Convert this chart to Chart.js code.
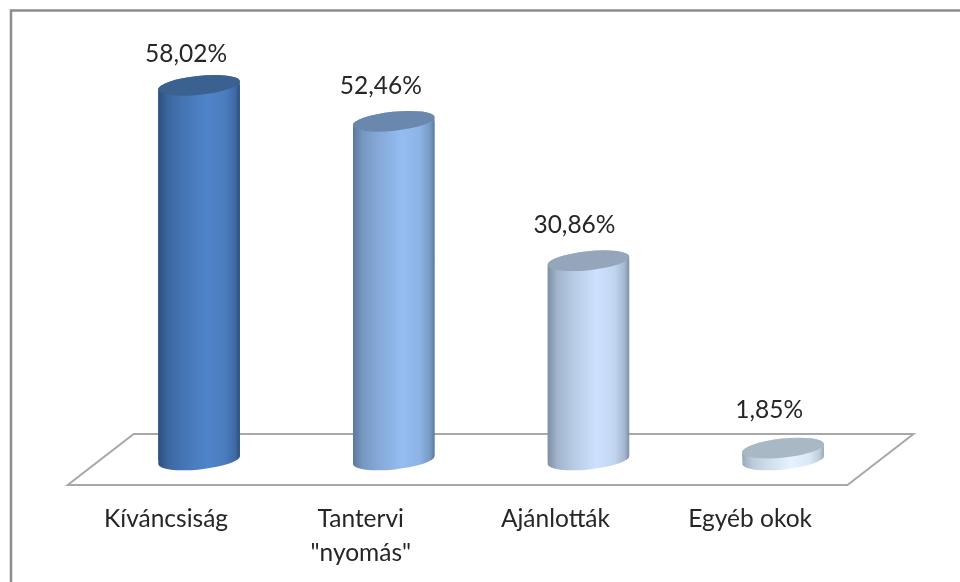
<!DOCTYPE html>
<html>
<head>
<meta charset="utf-8">
<style>
html,body{margin:0;padding:0;background:#fff;width:960px;height:582px;overflow:hidden}
#wrap{position:absolute;left:0;top:0;width:960px;height:582px}
</style>
<script src="https://cdn.jsdelivr.net/npm/chart.js@4"></script>
</head>
<body>
<div id="wrap"><canvas id="c" width="960" height="582"></canvas></div>
<script>
const categories = ["Kíváncsiság", ["Tantervi", "\"nyomás\""], "Ajánlották", "Egyéb okok"];
const values = [58.02, 52.46, 30.86, 1.85];
const valueLabels = ["58,02%", "52,46%", "30,86%", "1,85%"];
const edgeColors = [[44, 79, 124], [91, 120, 153], [125, 142, 163], [151, 169, 185]];
const midColors = [[79, 132, 203], [149, 189, 241], [205, 226, 255], [230, 242, 255]];
const capColors = ["#3a6190", "#6a88ae", "#95a6bb", "#a9b8c5"];
const labelShiftX = [-13, -13, -14, -14];
const labelLift = [31, 35, 36, 38];
const shadeStops = [[0, 0], [0.12, 0.45], [0.3, 0.7], [0.6, 1], [0.82, 0.85], [0.94, 0.5], [1, 0]];

const RY = 9.5, TILT = -6 * Math.PI / 180;
const BAR_FRACTION = 0.421;

function mix(a, b, t) {
  return "rgb(" + a.map((v, k) => Math.round(v + (b[k] - v) * t)).join(",") + ")";
}
function sideGradient(c, x, w, i) {
  const g = c.createLinearGradient(x - w / 2, 0, x + w / 2, 0);
  shadeStops.forEach(s => g.addColorStop(s[0], mix(edgeColors[i], midColors[i], s[1])));
  return g;
}
function silhouette(c, el) {
  const rx = el.width / 2;
  const ct = Math.cos(TILT), st = Math.sin(TILT);
  c.moveTo(el.x - rx * ct, el.y - rx * st);
  c.ellipse(el.x, el.y, rx, RY, TILT, Math.PI, 2 * Math.PI);
  c.lineTo(el.x + rx * ct, el.base + rx * st);
  c.ellipse(el.x, el.base, rx, RY, TILT, 0, Math.PI);
  c.closePath();
}

const cylinderPlugin = {
  id: "cylinder",
  beforeDraw(chart) {
    const c = chart.ctx, w = chart.width, h = chart.height;
    c.save();
    c.fillStyle = "#fff";
    c.fillRect(0, 0, w, h);
    c.strokeStyle = "#8c8c8c";
    c.lineWidth = 2.5;
    c.beginPath();
    c.moveTo(w, 10.5);
    c.lineTo(11, 10.5);
    c.lineTo(11, h);
    c.stroke();
    c.restore();
  },
  beforeDatasetsDraw(chart) {
    const c = chart.ctx, a = chart.chartArea;
    const near = a.bottom + 25, far = a.bottom - 26;
    c.save();
    c.strokeStyle = "#a8a8a8";
    c.lineWidth = 2;
    c.lineJoin = "miter";
    c.beginPath();
    c.moveTo(a.left - 34, near);
    c.lineTo(a.right - 33, near);
    c.lineTo(a.right + 33, far);
    c.lineTo(a.left + 32, far);
    c.closePath();
    c.stroke();
    c.restore();
  },
  beforeDatasetDraw(chart, args) {
    const c = chart.ctx, els = args.meta.data;
    els.forEach((el, i) => {
      c.beginPath();
      silhouette(c, el);
      c.fillStyle = sideGradient(c, el.x, el.width, i);
      c.fill();
    });
    c.save();
    c.beginPath();
    els.forEach(el => silhouette(c, el));
    c.clip();
  },
  afterDatasetDraw(chart, args) {
    const c = chart.ctx;
    c.restore();
    args.meta.data.forEach((el, i) => {
      c.beginPath();
      c.ellipse(el.x, el.y, el.width / 2, RY, TILT, 0, 2 * Math.PI);
      c.fillStyle = capColors[i];
      c.fill();
      c.fillStyle = "#262626";
      c.font = "24.5px Lato";
      c.textAlign = "center";
      c.textBaseline = "middle";
      c.fillText(valueLabels[i], el.x + labelShiftX[i], el.y - labelLift[i]);
    });
  }
};

new Chart(document.getElementById("c"), {
  type: "bar",
  data: {
    labels: categories,
    datasets: [{
      data: values,
      barPercentage: BAR_FRACTION,
      categoryPercentage: 1,
      borderWidth: 0,
      backgroundColor(ctx) {
        const x = ctx.chart.scales.x;
        const i = ctx.dataIndex;
        if (!x || i === undefined) return capColors[0];
        const w = x.width / categories.length * BAR_FRACTION;
        const px = x.getPixelForValue(i);
        if (!Number.isFinite(px) || !Number.isFinite(w)) return capColors[i];
        return sideGradient(ctx.chart.ctx, px, w, i);
      }
    }]
  },
  plugins: [cylinderPlugin],
  options: {
    responsive: false,
    animation: false,
    layout: { padding: { left: 101.7, right: 79.5, top: 8, bottom: 0 } },
    plugins: { legend: { display: false }, tooltip: { enabled: false }, title: { display: false } },
    scales: {
      y: { display: false, min: 0, max: 70 },
      x: {
        grid: { display: false },
        border: { display: false },
        afterFit(s) { s.height = 122; },
        ticks: {
          autoSkip: false,
          maxRotation: 0,
          minRotation: 0,
          padding: 34,
          labelOffset: -33,
          color: "#262626",
          font: { family: "Lato", size: 24.5, lineHeight: 1.39 }
        }
      }
    }
  }
});
</script>
</body>
</html>
